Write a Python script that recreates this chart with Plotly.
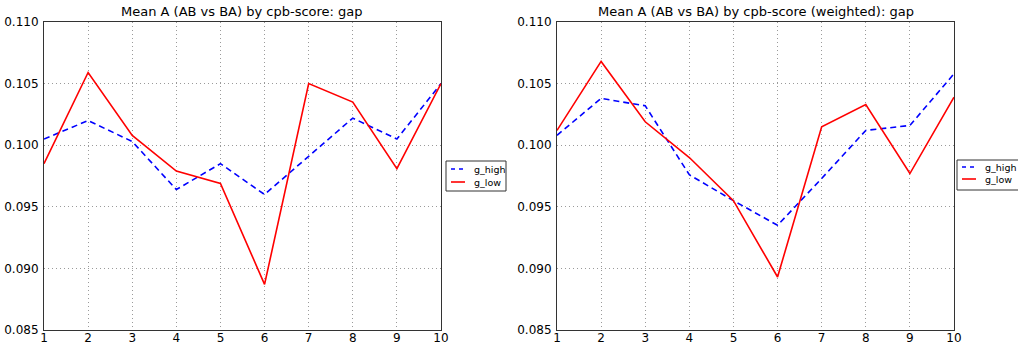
import plotly.graph_objects as go

x_vals = [1, 2, 3, 4, 5, 6, 7, 8, 9, 10]

left_g_high = [0.1005, 0.1020, 0.1003, 0.0964, 0.0985, 0.0960, 0.0991, 0.1022, 0.1005, 0.1050]
left_g_low = [0.0985, 0.1059, 0.1008, 0.0979, 0.0969, 0.0887, 0.1050, 0.1035, 0.0981, 0.1050]

right_g_high = [0.1008, 0.1038, 0.1032, 0.0976, 0.0955, 0.0935, 0.0973, 0.1012, 0.1016, 0.1058]
right_g_low = [0.1012, 0.1068, 0.1019, 0.0990, 0.0955, 0.0893, 0.1015, 0.1033, 0.0977, 0.1039]

series_names = ["g_high", "g_low"]
titles = ["Mean A (AB vs BA) by cpb-score: gap",
          "Mean A (AB vs BA) by cpb-score (weighted): gap"]
y_ticks = [0.085, 0.090, 0.095, 0.100, 0.105, 0.110]

FONT = "DejaVu Sans"
W, H = 1018, 346
BLUE, RED = "#0000ff", "#ff0000"
dash_style = "6px,4px"

fig = go.Figure()
panels = [(left_g_high, left_g_low, "x", "y"),
          (right_g_high, right_g_low, "x2", "y2")]
for hi, lo, xa, ya in panels:
    fig.add_trace(go.Scatter(x=x_vals, y=hi, mode="lines", name=series_names[0],
                             line=dict(color=BLUE, width=1.6, dash=dash_style),
                             xaxis=xa, yaxis=ya, showlegend=False))
    fig.add_trace(go.Scatter(x=x_vals, y=lo, mode="lines", name=series_names[1],
                             line=dict(color=RED, width=1.6),
                             xaxis=xa, yaxis=ya, showlegend=False))

ydom = [1 - 330 / H, 1 - 22 / H]
doms = [[44 / W, 441 / W], [557 / W, 954 / W]]

common_axis = dict(showline=True, linecolor="#333333", linewidth=1, mirror=True,
                   ticks="", automargin=False,
                   showgrid=True, gridcolor="#9a9a9a", griddash="1px,3px", gridwidth=1,
                   zeroline=False, tickfont=dict(family=FONT, size=12, color="black"))

layout = dict(
    width=W, height=H,
    margin=dict(l=0, r=0, t=0, b=0, autoexpand=False),
    paper_bgcolor="white", plot_bgcolor="white",
    font=dict(family=FONT, color="black"),
    showlegend=False,
)
for i, (xn, yn) in enumerate([("xaxis", "yaxis"), ("xaxis2", "yaxis2")]):
    anchor_x = "y" if i == 0 else "y2"
    anchor_y = "x" if i == 0 else "x2"
    layout[xn] = dict(domain=doms[i], anchor=anchor_x, range=[1, 10],
                      tickvals=x_vals, ticktext=[str(v) for v in x_vals],
                      ticklabelstandoff=-3, **common_axis)
    layout[yn] = dict(domain=ydom, anchor=anchor_y, range=[0.085, 0.110],
                      tickvals=y_ticks, ticktext=[f"{v:.3f}" for v in y_ticks],
                      ticklabelstandoff=2, **common_axis)

annotations = []
for i, t in enumerate(titles):
    annotations.append(dict(text=t, x=(doms[i][0] + doms[i][1]) / 2, y=ydom[1],
                            xref="paper", yref="paper", xanchor="center", yanchor="bottom",
                            yshift=1, showarrow=False,
                            font=dict(family=FONT, size=13, color="black")))

# custom legends (box, sample lines, labels) in pixel positions
shapes = []
def px_x(v):
    return v / W
def px_y(v):
    return 1 - v / H

legends = [dict(x0=446, x1=506, y0=161, y1=191, rows=[169, 182]),
           dict(x0=957, x1=1030, y0=160, y1=190, rows=[167, 179])]
for lg in legends:
    shapes.append(dict(type="rect", xref="paper", yref="paper",
                       x0=px_x(lg["x0"]), x1=px_x(lg["x1"]),
                       y0=px_y(lg["y1"]), y1=px_y(lg["y0"]),
                       line=dict(color="#333333", width=1), fillcolor="white", layer="above"))
    for name, color, dash, row in zip(series_names, [BLUE, RED], ["4px,4px", "solid"], lg["rows"]):
        shapes.append(dict(type="line", xref="paper", yref="paper",
                           x0=px_x(lg["x0"] + 5), x1=px_x(lg["x0"] + 19),
                           y0=px_y(row), y1=px_y(row),
                           line=dict(color=color, width=1.6, dash=dash), layer="above"))
        annotations.append(dict(text=name, x=px_x(lg["x0"] + 26), y=px_y(row),
                                xref="paper", yref="paper", xanchor="left", yanchor="middle",
                                showarrow=False,
                                font=dict(family=FONT, size=9.5, color="black")))

layout["annotations"] = annotations
layout["shapes"] = shapes

fig.update_layout(**layout)
fig.write_html("out.html")
